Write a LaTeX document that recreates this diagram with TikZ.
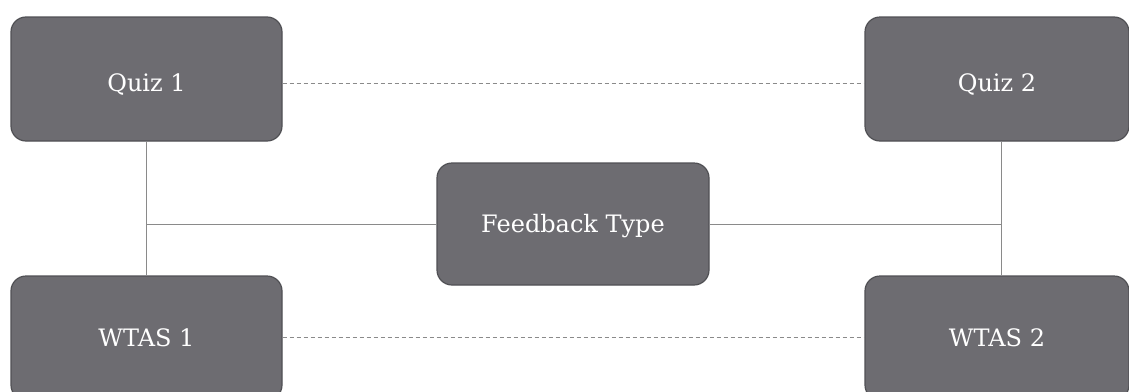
\documentclass[tikz,border=0pt]{standalone}
\usepackage{fontspec}
\setmainfont{DejaVu Serif}
\definecolor{boxfill}{HTML}{6D6C71}
\definecolor{boxedge}{HTML}{505054}
\definecolor{linkgray}{HTML}{8A8A8A}
\tikzset{
  card/.style={draw=boxedge, line width=1.2pt, fill=boxfill, rounded corners=15pt,
    minimum width=271pt, minimum height=124pt, inner sep=0pt, text=white,
    text height=17.5pt, text depth=0pt,
    font=\fontsize{24}{29}\selectfont},
  solidlink/.style={draw=linkgray, line width=1pt},
  dashlink/.style={draw=linkgray, line width=1pt, dash pattern=on 4pt off 3pt},
}
\begin{document}
\begin{tikzpicture}[x=1pt,y=-1pt]
\useasboundingbox (0,0) rectangle (1129,391);
\begin{scope}
\clip (0,0) rectangle (1129,391);
\node[card] (q1) at (146.5,79) {\raisebox{-4pt}{Quiz 1}};
\node[card, minimum width=264pt] (q2) at (997,79) {\raisebox{-4pt}{Quiz 2}};
\node[card, minimum width=272pt, minimum height=122pt] (fb) at (573,224) {Feedback Type};
\node[card] (w1) at (146.5,338) {WTAS 1};
\node[card, minimum width=264pt] (w2) at (997,338) {WTAS 2};
\coordinate (jl) at (146.5,224);
\coordinate (jr) at (1001,224);
\draw[solidlink] (q1.south) -- (w1.north);
\draw[solidlink] (jl) -- (fb.west);
\draw[solidlink] (fb.east) -- (jr);
\draw[solidlink] (q2.south -| jr) -- (w2.north -| jr);
\draw[dashlink] (q1.east |- 0,83) -- (q2.west |- 0,83);
\draw[dashlink] (w1.east |- 0,337) -- (w2.west |- 0,337);
\end{scope}
\end{tikzpicture}
\end{document}
